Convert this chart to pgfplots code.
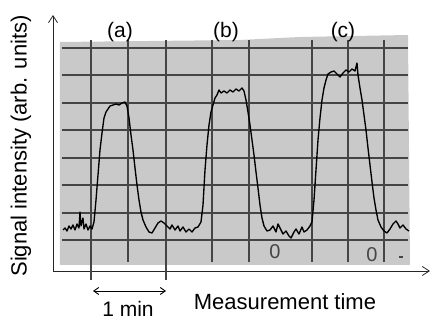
\documentclass[border=0pt]{standalone}
\usepackage{pgfplots}
\pgfplotsset{compat=1.18}
\usetikzlibrary{arrows.meta}
\usepackage{fontspec}
\setmainfont{Liberation Sans}
\definecolor{paper}{gray}{0.79}
\definecolor{gridc}{gray}{0.27}
\begin{document}
\begin{tikzpicture}
\begin{axis}[
  x=1pt, y=1pt,
  xmin=53, xmax=430, ymin=49, ymax=305,
  axis lines=left,
  xtick=\empty, ytick=\empty,
  clip=false,
  axis line style={line width=0.9pt, black!85, -{Straight Barb[length=7pt,width=9pt,line width=0.8pt]}},
]
% chart paper
\fill[paper] (axis cs:60,55) -- (axis cs:60,278) -- (axis cs:240,280) -- (axis cs:300,283) -- (axis cs:408,285) -- (axis cs:410,55) -- cycle;
% horizontal grid lines
\pgfplotsinvokeforeach{272,245,217,190,162,135,107,80}{
  \draw[gridc, line width=1.5pt] (axis cs:62,#1) -- (axis cs:408,#1);
}
% vertical grid lines
\pgfplotsinvokeforeach{128,212,249,312,348,384}{
  \draw[gridc, line width=1.3pt] (axis cs:#1,280) -- (axis cs:#1,58);
}
\pgfplotsinvokeforeach{91,166}{
  \draw[gridc, line width=1.3pt] (axis cs:#1,280) -- (axis cs:#1,40);
}
% handwritten marks
\node[gridc, font=\fontsize{20}{24}\selectfont] at (axis cs:275,68) {0};
\node[gridc, font=\fontsize{20}{24}\selectfont] at (axis cs:372,65) {0};
\draw[gridc, line width=1.5pt] (axis cs:399,63) -- (axis cs:403,63);
% trace
\addplot[black, line width=1.35pt, line join=round] coordinates {
(63,90) (65,92) (67,89) (69,94) (71,91) (73,95) (75,90) (77,96) (79,92) (80,108)
(81,94) (83,102) (84,91) (86,96) (88,90) (90,94) (92,91) (94,98)
(96,120) (98,145) (100,170) (102,187) (104,202) (106,208) (108,211) (110,214)
(113,215) (116,216) (119,215) (122,217) (125,218) (127,214) (129,202) (131,185)
(133,170) (135,152) (137,135) (139,120) (141,108) (143,100) (146,93) (149,88)
(152,87) (155,92) (158,97) (161,99) (164,97) (167,94) (170,91) (172,95) (175,90)
(178,94) (180,89) (183,93) (186,88) (189,91) (192,88) (195,92) (198,93) (201,98)
(203,115) (205,150) (207,175) (209,195) (211,208) (213,215) (215,222) (217,225)
(219,230) (221,227) (224,229) (227,227) (230,230) (233,228) (236,231) (239,229)
(242,232) (244,229) (246,220) (248,208) (250,195) (252,180) (254,165) (256,148)
(258,132) (260,115) (262,102) (264,94) (267,89) (270,90) (273,94) (276,88) (278,96)
(281,90) (283,86) (286,89) (289,84) (291,82) (294,88) (296,91) (299,86) (302,93)
(304,88) (307,90) (310,94) (312,98)
(314,120) (316,150) (318,180) (320,202) (322,220) (324,232) (326,240) (328,246)
(331,248) (334,249) (337,246) (340,243) (343,247) (346,250) (349,248) (352,251)
(355,249) (357,257) (358,245) (360,232) (362,220) (364,205) (366,190) (368,172)
(370,155) (372,138) (374,122) (376,110) (378,100) (381,93) (384,89) (387,87)
(390,91) (393,96) (396,99) (398,96) (400,92) (403,95) (406,91) (409,89)
};
% labels
\node[font=\fontsize{21}{25}\selectfont] at (axis cs:120,288) {(a)};
\node[font=\fontsize{21}{25}\selectfont] at (axis cs:226,288) {(b)};
\node[font=\fontsize{21}{25}\selectfont] at (axis cs:343,288) {(c)};
\node[font=\fontsize{22}{26}\selectfont, rotate=90] at (axis cs:21,174) {Signal intensity (arb. units)};
\node[font=\fontsize{22}{26}\selectfont] at (axis cs:285,18) {Measurement time};
\node[font=\fontsize{21}{25}\selectfont] at (axis cs:128,11) {1 min};
\draw[line width=0.9pt, {Straight Barb[length=5pt,width=7pt]}-{Straight Barb[length=5pt,width=7pt]}] (axis cs:93,29) -- (axis cs:166,29);
\coordinate (BL) at (axis cs:0,0);
\coordinate (TR) at (axis cs:432,320);
\end{axis}
\pgfresetboundingbox
\path (BL) rectangle (TR);
\end{tikzpicture}
\end{document}
